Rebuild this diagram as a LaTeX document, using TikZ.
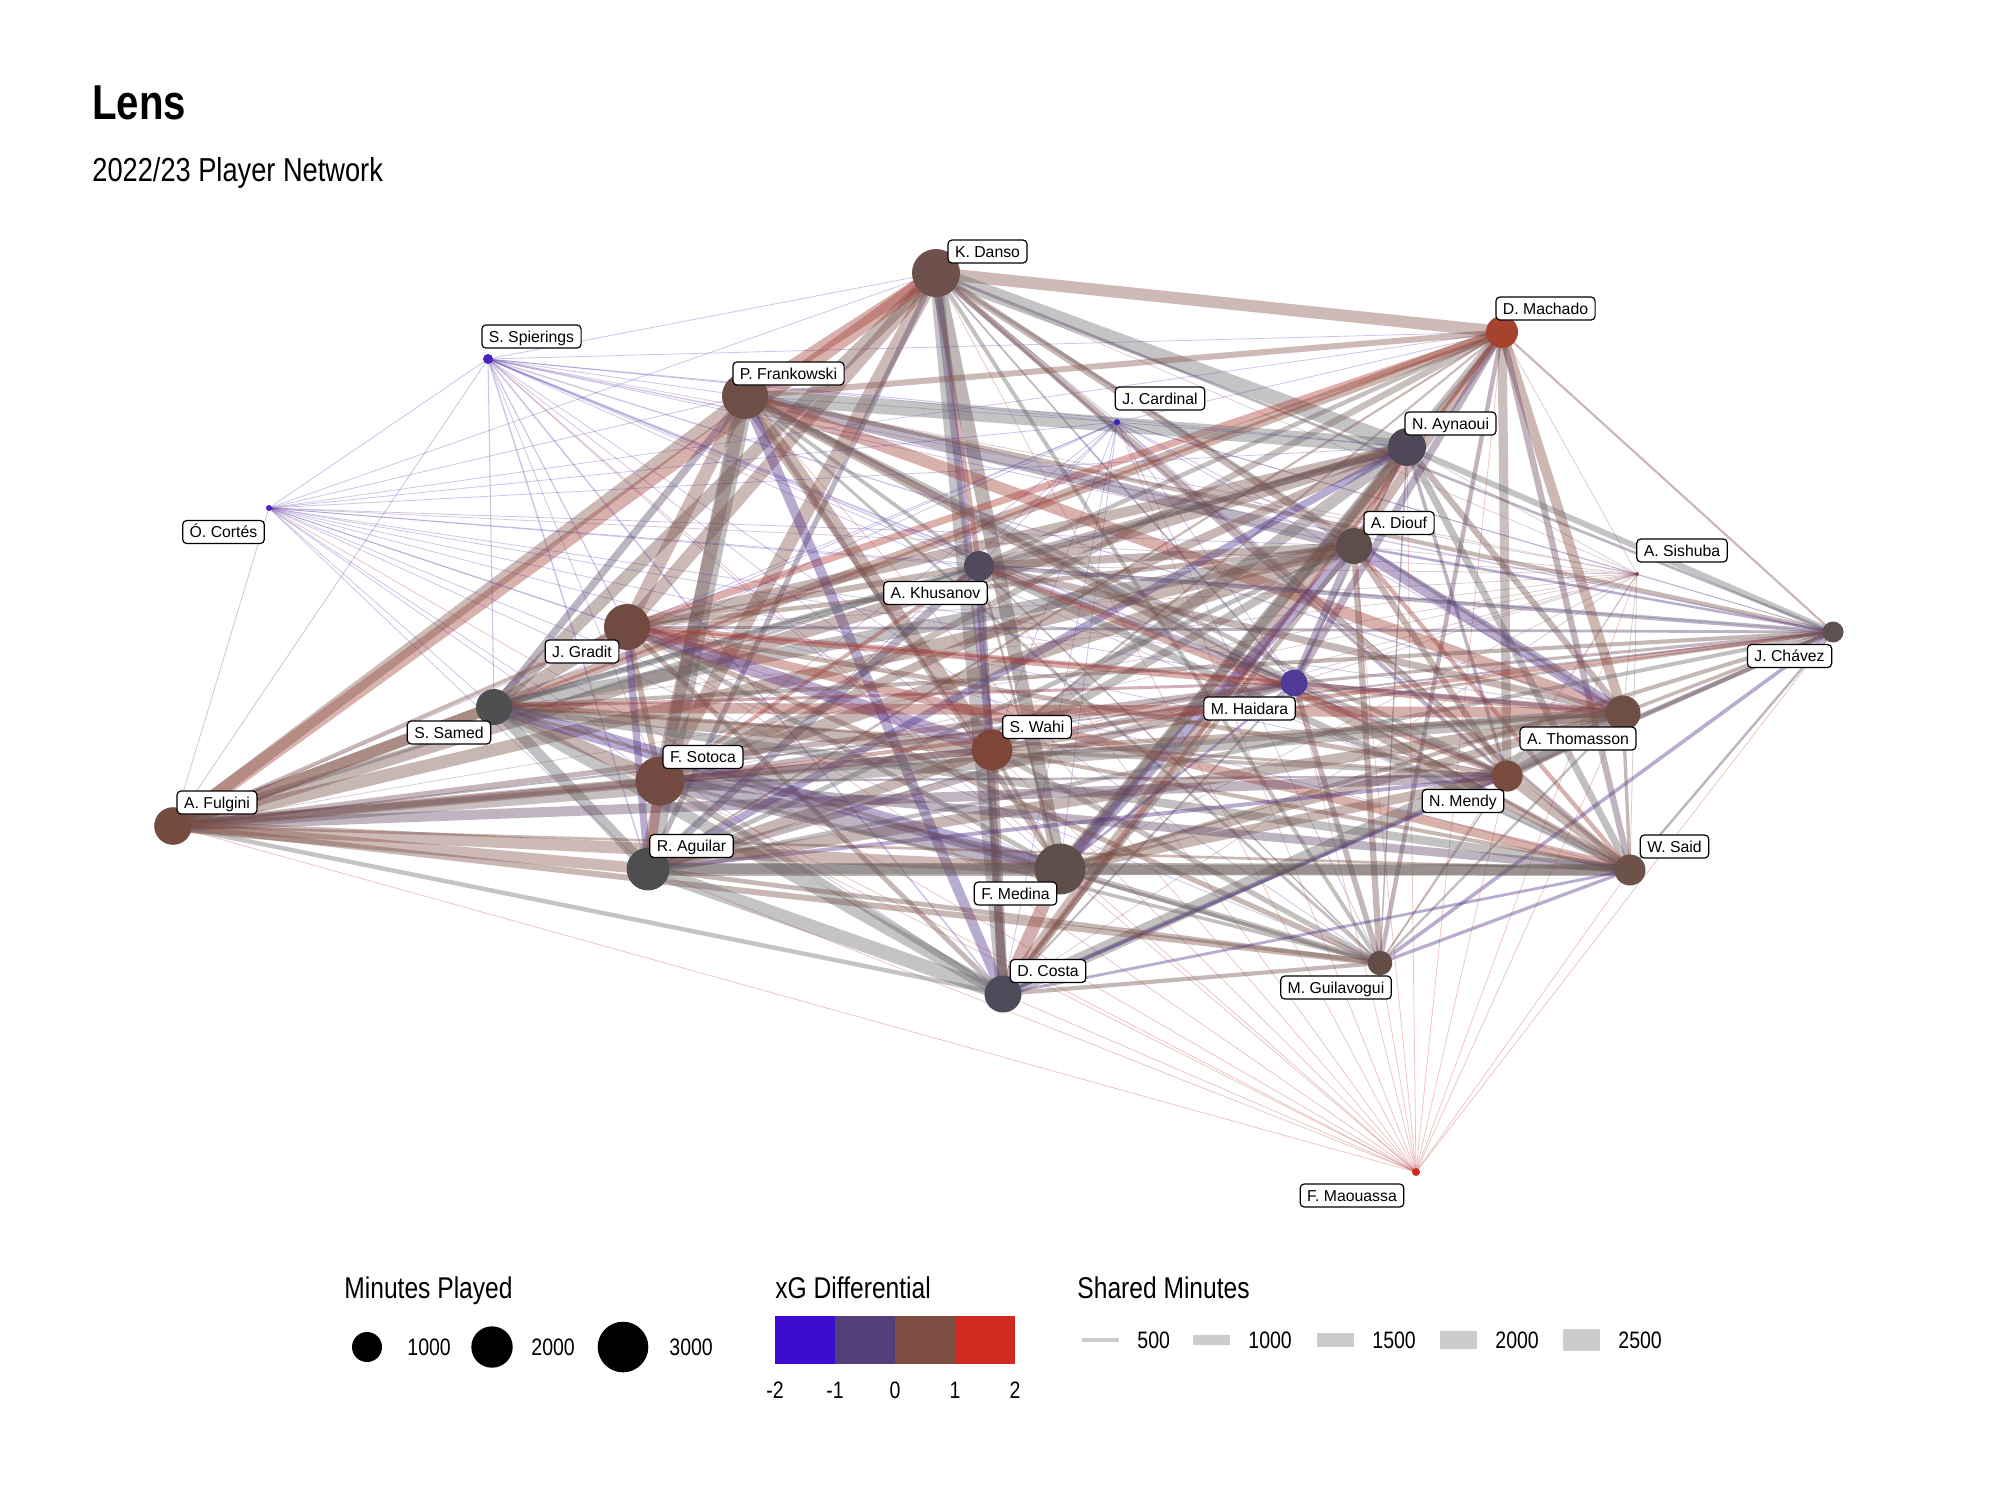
\documentclass[tikz,border=0pt]{standalone}
\usepackage{fontspec}
\setmainfont{Liberation Sans}
\newfontfamily\narrowfont[FakeStretch=0.82]{Liberation Sans}
\pgfdeclarelayer{paper}
\pgfdeclarelayer{edges}
\pgfsetlayers{paper,edges,main}
\definecolor{c1}{HTML}{6E514C}
\definecolor{c2}{HTML}{A5432F}
\definecolor{c3}{HTML}{4B22C2}
\definecolor{c4}{HTML}{6D4F48}
\definecolor{c5}{HTML}{3A1FC0}
\definecolor{c6}{HTML}{4F4858}
\definecolor{c7}{HTML}{4A25C0}
\definecolor{c8}{HTML}{5E4E4B}
\definecolor{c9}{HTML}{514A5C}
\definecolor{c10}{HTML}{8B4A58}
\definecolor{c11}{HTML}{714B42}
\definecolor{c12}{HTML}{5D5250}
\definecolor{c13}{HTML}{4F3A95}
\definecolor{c14}{HTML}{4F4E51}
\definecolor{c15}{HTML}{6E4E45}
\definecolor{c16}{HTML}{7E4638}
\definecolor{c17}{HTML}{7A4B3F}
\definecolor{c18}{HTML}{734B43}
\definecolor{c19}{HTML}{744B41}
\definecolor{c20}{HTML}{4E4D4F}
\definecolor{c21}{HTML}{5F4F4B}
\definecolor{c22}{HTML}{6C524B}
\definecolor{c23}{HTML}{664E48}
\definecolor{c24}{HTML}{4D4A5A}
\definecolor{c25}{HTML}{D42A1E}
\definecolor{cbA}{HTML}{3C0CD0}
\definecolor{cbB}{HTML}{533F77}
\definecolor{cbC}{HTML}{7E4D41}
\definecolor{cbD}{HTML}{D02A1F}
\definecolor{egray}{HTML}{6C6C70}
\definecolor{ebrown}{HTML}{835247}
\definecolor{edark}{HTML}{5C4A46}
\definecolor{keygray}{HTML}{CCCCCC}
\newcommand\ovedge[4]{%
  \expandafter\def\csname ovw#1-#2\endcsname{#3}%
  \expandafter\def\csname ovc#1-#2\endcsname{#4}}
% hand-set partnerships (width in pt)
\ovedge{1}{6}{7.5}{egray}
\ovedge{4}{6}{7.5}{egray}
\ovedge{1}{2}{6}{ebrown}
\ovedge{2}{4}{3}{ebrown}
\ovedge{4}{19}{6}{ebrown}
\ovedge{21}{22}{6}{edark}
\ovedge{1}{21}{7}{edark}
\ovedge{1}{24}{6.5}{egray}
\ovedge{4}{11}{6.5}{ebrown}
\ovedge{4}{18}{6.5}{ebrown}
\ovedge{1}{18}{7}{ebrown}
\ovedge{1}{11}{6.5}{ebrown}
\ovedge{19}{21}{6}{ebrown}
\ovedge{19}{20}{5.5}{ebrown}
\ovedge{19}{24}{2.2}{egray}
\ovedge{6}{12}{3}{egray}
\ovedge{20}{24}{7}{egray}
\ovedge{14}{24}{6}{egray}
\ovedge{6}{24}{6}{ebrown}
\ovedge{6}{21}{6}{edark}
\ovedge{20}{21}{6.5}{edark}
\begin{document}
\begin{tikzpicture}[x=0.5pt,y=-0.5pt,
  player/.style={circle, inner sep=0pt, minimum size=#1pt},
  lab/.style={draw=black, fill=white, rounded corners=2pt, line width=0.6pt,
    inner xsep=3.5pt, inner ysep=2.9pt, text height=5.7pt, text depth=0pt,
    font=\fontsize{7.9}{9}\selectfont},
  edge/.style={opacity=0.4},
  legtitle/.style={anchor=base west, inner sep=0pt, font=\narrowfont\fontsize{15}{18}\selectfont},
  legtext/.style={inner sep=0pt, font=\narrowfont\fontsize{11.9}{14}\selectfont},
  keydot/.style={circle, fill=black, inner sep=0pt, minimum size=#1pt}]
\useasboundingbox (0,0) rectangle (2000,1500);
\begin{pgfonlayer}{paper}
\fill[white] (0,0) rectangle (2000,1500);
\end{pgfonlayer}

% titles
\node[anchor=base west, inner sep=0pt, font=\narrowfont\bfseries\fontsize{24.5}{28}\selectfont] (title) at (92,119) {Lens};
\node[anchor=base west, inner sep=0pt, font=\narrowfont\fontsize{16.6}{20}\selectfont] (subtitle) at (92,181) {2022/23 Player Network};

% players
\foreach \i/\x/\y/\r in {
  1/936/273/24, 2/1502/332/16, 3/488/359/5, 4/745/396/23, 5/1117/422/3,
  6/1407/447/19, 7/269/508/3, 8/1354/546/18, 9/979/566/15, 10/1637/574/2,
  11/627/627/23, 12/1833/632/10.5, 13/1294/683/13.4, 14/494/707/18, 15/1623/713/17.5,
  16/992/750/20.4, 17/1507/776/15.6, 18/660/781/24.6, 19/173/826/18.8, 20/648/869/21.4,
  21/1060/869/25.5, 22/1630/870/15.5, 23/1380/963/12.3, 24/1003/994/18.5, 25/1416/1172/4}
  \node[player=\r, fill=c\i] (n\i) at (\x,\y) {};

% connectors
\def\M{{2770,1210,200,2540,60,1720,60,1540,1060,30,2540,500,840,1540,1450,1990,1150,2910,1680,2200,3130,1130,700,1630,40}}
\pgfmathsetseed{4242}
\begin{pgfonlayer}{edges}
\foreach \i in {1,...,24}{
  \pgfmathtruncatemacro\js{\i+1}
  \foreach \j in {\js,...,25}{
    \pgfmathsetmacro\mi{\M[\i-1]}
    \pgfmathsetmacro\mj{\M[\j-1]}
    \pgfmathsetmacro\w{max(0.4,0.0045*min(\mi,\mj)*(0.2+0.8*rnd))}
    \pgfmathsetmacro\rc{rnd}
    \def\op{0.4}%
    \colorlet{ebase}{c\i!50!c\j}
    \ifdim\rc pt<0.38pt \colorlet{ecol}{cbC!55!ebase}%
    \else\ifdim\rc pt<0.62pt \colorlet{ecol}{egray!65!ebase}%
    \else\ifdim\rc pt<0.77pt \colorlet{ecol}{cbB!60!ebase}%
    \else\ifdim\rc pt<0.89pt \colorlet{ecol}{cbD!50!ebase}%
    \else \colorlet{ecol}{cbA!45!ebase}\fi\fi\fi\fi
    \ifdim\mi pt<300pt \colorlet{ecol}{c\i!75!c\j}\def\op{0.28}\fi
    \ifdim\mj pt<300pt \colorlet{ecol}{c\j!75!c\i}\def\op{0.28}\fi
    \ifcsname ovw\i-\j\endcsname
      \edef\w{\csname ovw\i-\j\endcsname}%
      \colorlet{ecol}{\csname ovc\i-\j\endcsname}%
    \fi
    \draw[edge, opacity=\op, line width=\w pt, draw=ecol] (n\i.center) -- (n\j.center);
  }
}
\end{pgfonlayer}

% labels
\foreach \i/\lx/\ly/\t in {
  1/987.5/251.5/K. Danso, 2/1545.5/308.5/D. Machado, 3/531.5/336.5/S. Spierings,
  4/788.5/373.5/P. Frankowski, 5/1160/398.5/J. Cardinal, 6/1450.5/423.5/N. Aynaoui,
  7/223.5/532/Ó. Cortés, 8/1399/523/A. Diouf, 9/935.5/593/A. Khusanov,
  10/1682/550.5/A. Sishuba, 11/582/651.5/J. Gradit, 12/1789.5/656/J. Chávez,
  13/1249.5/708.5/M. Haidara, 14/449/732.5/S. Samed, 15/1578/738.5/A. Thomasson,
  16/1037/727/S. Wahi, 17/1463/801/N. Mendy, 18/703/757/F. Sotoca,
  19/217/802.5/A. Fulgini, 20/691.5/846/R. Aguilar, 21/1015.5/893.5/F. Medina,
  22/1674.5/846.5/W. Said, 23/1336/987.5/M. Guilavogui, 24/1048/971/D. Costa,
  25/1352/1195.5/F. Maouassa}
  \node[lab] (l\i) at (\lx,\ly) {\t};

% legend: minutes played
\node[legtitle] (lgA) at (344,1298) {Minutes Played};
\node[keydot=15] (kA1) at (367,1347) {};
\node[legtext, anchor=west] (tA1) at (407,1347) {1000};
\node[keydot=20.7] (kA2) at (492,1347) {};
\node[legtext, anchor=west] (tA2) at (531,1347) {2000};
\node[keydot=25.3] (kA3) at (623,1347) {};
\node[legtext, anchor=west] (tA3) at (669,1347) {3000};

% legend: xG differential
\node[legtitle] (lgB) at (775,1298) {xG Differential};
\fill[cbA] (775,1316) rectangle (835,1364);
\fill[cbB] (835,1316) rectangle (895,1364);
\fill[cbC] (895,1316) rectangle (955,1364);
\fill[cbD] (955,1316) rectangle (1015,1364);
\foreach \k/\v in {775/-2, 835/-1, 895/0, 955/1, 1015/2}
  \node[legtext] (tb\k) at (\k,1390) {\v};

% legend: shared minutes
\node[legtitle] (lgC) at (1077,1298) {Shared Minutes};
\foreach \x/\h/\v in {1082/3.7/500, 1193/9.7/1000, 1317/14.3/1500, 1440/18.3/2000, 1563/22.6/2500}{
  \fill[keygray] (\x,1340-\h/2) rectangle (\x+37,1340+\h/2);
  \node[legtext, anchor=west] (tc\v) at (\x+55,1340) {\v};
}
\end{tikzpicture}
\end{document}
